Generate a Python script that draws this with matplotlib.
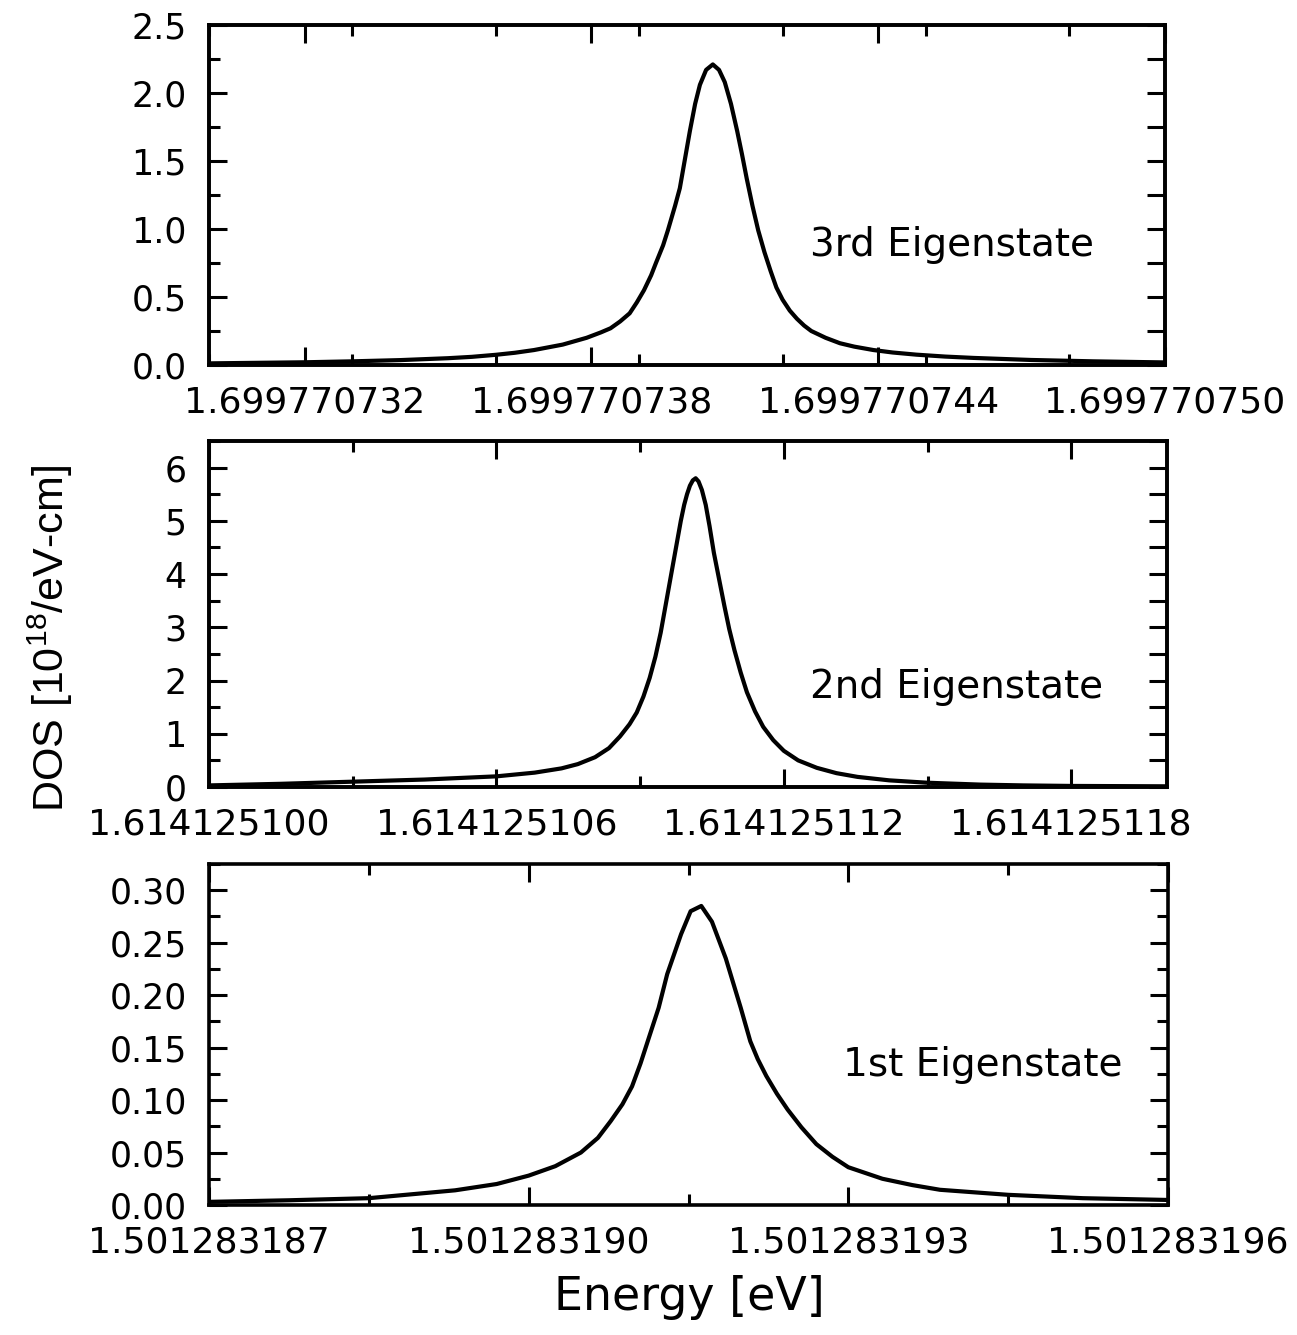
import numpy as np
import matplotlib
matplotlib.use('Agg')
import matplotlib.pyplot as plt
import matplotlib.ticker as ticker
from matplotlib import font_manager

plt.rcParams['font.family'] = ['DejaVu Sans']

# energies are offsets in units of 1e-9 eV from the base written in the tick labels
# 3rd eigenstate, base 1.699770 eV
e3 = [730.0, 731.0, 732.0, 733.0, 734.0, 735.0, 735.5, 736.0, 736.4, 736.8,
      737.1, 737.4, 737.9, 738.2, 738.4, 738.6, 738.8, 738.95, 739.1, 739.25,
      739.35, 739.5, 739.6, 739.75, 739.85, 739.95, 740.06, 740.17, 740.27, 740.4,
      740.54, 740.67, 740.79, 740.92, 741.05, 741.15, 741.25, 741.37, 741.49, 741.62,
      741.75, 741.87, 742.0, 742.15, 742.3, 742.45, 742.6, 742.9, 743.2, 743.5,
      743.9, 744.3, 744.8, 745.4, 746.0, 747.2, 748.5, 750.0]
dos3 = [0.012, 0.016, 0.02, 0.027, 0.036, 0.05, 0.06, 0.075, 0.09, 0.11,
        0.13, 0.15, 0.20, 0.24, 0.27, 0.32, 0.38, 0.46, 0.55, 0.66,
        0.75, 0.88, 0.99, 1.17, 1.30, 1.50, 1.72, 1.92, 2.06, 2.17,
        2.21, 2.17, 2.08, 1.92, 1.72, 1.55, 1.37, 1.17, 0.99, 0.83,
        0.69, 0.57, 0.48, 0.40, 0.34, 0.29, 0.25, 0.20, 0.16, 0.135,
        0.11, 0.092, 0.076, 0.062, 0.052, 0.037, 0.027, 0.019]
xt3 = [732, 738, 744, 750]

# 2nd eigenstate, base 1.614125 eV
e2 = [100.0, 101.5, 103.0, 104.5, 106.0, 106.8, 107.36, 107.7, 108.06, 108.35,
      108.58, 108.78, 108.93, 109.07, 109.2, 109.32, 109.43, 109.56, 109.69, 109.78,
      109.85, 109.92, 109.98, 110.04, 110.1, 110.16, 110.22, 110.29, 110.37, 110.45,
      110.54, 110.65, 110.76, 110.86, 110.97, 111.1, 111.23, 111.4, 111.57, 111.78,
      112.0, 112.3, 112.69, 113.1, 113.54, 114.2, 115.0, 116.1, 117.0, 118.0,
      120.0]
dos2 = [0.03, 0.06, 0.1, 0.14, 0.2, 0.27, 0.35, 0.43, 0.56, 0.73,
        0.95, 1.18, 1.4, 1.7, 2.05, 2.45, 2.9, 3.55, 4.2, 4.65,
        5.0, 5.3, 5.5, 5.66, 5.76, 5.8, 5.74, 5.58, 5.3, 4.9,
        4.4, 3.9, 3.4, 2.97, 2.57, 2.15, 1.78, 1.42, 1.13, 0.88,
        0.68, 0.5, 0.36, 0.26, 0.19, 0.125, 0.08, 0.045, 0.03, 0.02,
        0.013]
xt2 = [100, 106, 112, 118]

# 1st eigenstate, base 1.501283 eV
e1 = [187.0, 187.75, 188.5, 189.31, 189.7, 190.0, 190.25, 190.49, 190.65, 190.77,
      190.88, 190.97, 191.05, 191.13, 191.22, 191.3, 191.43, 191.52, 191.62, 191.72,
      191.85, 191.99, 192.08, 192.15, 192.23, 192.33, 192.43, 192.56, 192.7, 192.85,
      193.0, 193.32, 193.6, 193.86, 194.5, 195.2, 196.0]
dos1 = [0.003, 0.0045, 0.0065, 0.014, 0.02, 0.028, 0.037, 0.05, 0.064, 0.08,
        0.096, 0.113, 0.135, 0.16, 0.188, 0.22, 0.258, 0.28, 0.285, 0.27,
        0.235, 0.188, 0.156, 0.139, 0.123, 0.106, 0.091, 0.074, 0.058, 0.046,
        0.036, 0.025, 0.019, 0.0145, 0.0097, 0.0065, 0.0048]
xt1 = [187, 190, 193, 196]

panels = [
    # x, y, base, xlim, major x ticks, minor step, ylim, major y, minor y, fmt, label, label pos, equal right ticks
    (e3, dos3, '1.699770', (730, 750), xt3, 3, (0, 2.5), 0.5, 0.25, '%.1f',
     '3rd Eigenstate', (810, 245), True),
    (e2, dos2, '1.614125', (100, 120), xt2, 3, (0, 6.5), 1, 0.5, '%d',
     '2nd Eigenstate', (810, 687), True),
    (e1, dos1, '1.501283', (187, 196), xt1, 1.5, (0, 0.325), 0.05, 0.025, '%.2f',
     '1st Eigenstate', (843, 1065), False),
]

W, H = 1297, 1335
fig = plt.figure(figsize=(W / 100, H / 100), dpi=100)

boxes = [(209, 25, 1165, 365), (209, 441, 1167, 787), (209, 864, 1168, 1205)]

for (x, y, base, xlim, xt, xmin, ylim, ymaj, ymin, yfmt, lab, lpos, eq), box in zip(panels, boxes):
    l, t, r, b = box
    ax = fig.add_axes([l / W, 1 - b / H, (r - l) / W, (b - t) / H])
    ax.plot(x, y, color='black', lw=3.0, solid_joinstyle='round', solid_capstyle='round')
    ax.set_xlim(*xlim)
    ax.set_ylim(*ylim)
    ax.set_xticks(xt)
    ax.set_xticklabels(['%s%03d' % (base, v) for v in xt])
    ax.set_xticks(np.arange(xlim[0], xlim[1] + 0.01, xmin), minor=True)
    ax.yaxis.set_major_locator(ticker.MultipleLocator(ymaj))
    ax.yaxis.set_minor_locator(ticker.MultipleLocator(ymin))
    ax.yaxis.set_major_formatter(ticker.FormatStrFormatter(yfmt))
    ax.tick_params(which='both', direction='in', top=True, right=not eq, width=2.2,
                   color='black')
    ax.tick_params(which='major', length=13)
    ax.tick_params(which='minor', length=8)
    ax.tick_params(axis='y', pad=16, labelsize=25)
    ax.tick_params(axis='x', pad=15, labelsize=26)
    for s in ax.spines.values():
        s.set_linewidth(2.6)
    if eq:
        # right side: every tick the same length
        tw = ax.twinx()
        tw.set_ylim(*ylim)
        tw.yaxis.set_major_locator(ticker.MultipleLocator(ymin))
        tw.tick_params(direction='in', length=13, width=2.2, labelright=False)
        for s in tw.spines.values():
            s.set_linewidth(2.6)
    fig.text(lpos[0] / W, 1 - lpos[1] / H, lab, fontsize=28, ha='left', va='center')

names = {f.name for f in font_manager.fontManager.ttflist}
if 'Liberation Sans Narrow' in names:
    yfam, ysize = ['Liberation Sans Narrow', 'DejaVu Sans'], 35
else:
    yfam, ysize = ['Liberation Sans', 'DejaVu Sans'], 31
fig.text(50 / W, 1 - 639 / H, r'DOS [10$^{\mathregular{18}}$/eV-cm]',
         rotation=90, ha='center', va='center', fontsize=ysize, family=yfam)
fig.text(689 / W, 1 - 1298 / H, 'Energy [eV]', ha='center', va='center', fontsize=33)

fig.savefig('out.png', dpi=100)
